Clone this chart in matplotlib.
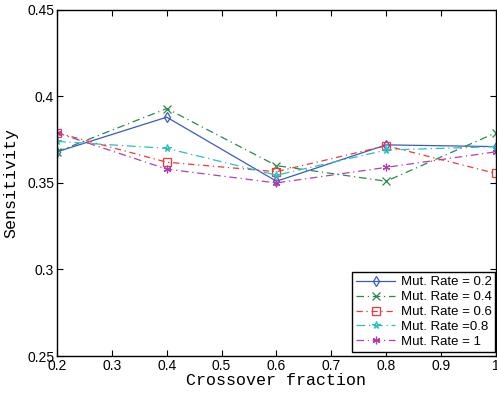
import matplotlib
matplotlib.use("Agg")
from matplotlib import pyplot as plt

crossover = [0.2, 0.4, 0.6, 0.8, 1.0]
rate_02 = [0.368, 0.388, 0.351, 0.372, 0.371]
rate_04 = [0.368, 0.393, 0.360, 0.351, 0.379]
rate_06 = [0.379, 0.362, 0.3565, 0.3715, 0.3555]
rate_08 = [0.374, 0.370, 0.3545, 0.369, 0.371]
rate_1 = [0.379, 0.358, 0.350, 0.359, 0.368]

labels = ["Mut. Rate = 0.2", "Mut. Rate = 0.4", "Mut. Rate = 0.6",
          "Mut. Rate =0.8", "Mut. Rate = 1"]
series = [rate_02, rate_04, rate_06, rate_08, rate_1]
colors = ["#3a5bbf", "#2a8a4a", "#f03838", "#28c0c0", "#b040b0"]
markers = ["d", "x", "s", "*", (6, 2, 0)]
dashes = [None, (6, 3, 1, 3), (5, 3, 1, 3), (7, 3, 1, 3), (6, 3, 1, 3)]

fig = plt.figure(figsize=(4.97, 3.96), dpi=100)
ax = fig.add_axes([0.1147, 0.101, 0.883, 0.874])

for i, vals in enumerate(series):
    line, = ax.plot(crossover, vals, color=colors[i], marker=markers[i],
                    markersize=5.5, markerfacecolor="none", markeredgewidth=0.9,
                    linewidth=0.9, label=labels[i])
    if dashes[i] is not None:
        line.set_dashes(dashes[i])

ax.set_xlim(0.2, 1.0)
ax.set_ylim(0.25, 0.45)
ax.set_xticks([0.2, 0.3, 0.4, 0.5, 0.6, 0.7, 0.8, 0.9, 1.0])
ax.set_xticklabels(["0.2", "0.3", "0.4", "0.5", "0.6", "0.7", "0.8", "0.9", "1"],
                   family="Liberation Sans", fontsize=10)
ax.set_yticks([0.25, 0.3, 0.35, 0.4, 0.45])
ax.set_yticklabels(["0.25", "0.3", "0.35", "0.4", "0.45"],
                   family="Liberation Sans", fontsize=10)
ax.tick_params(direction="in", top=True, right=True, length=4, width=0.8, pad=2)
for s in ax.spines.values():
    s.set_linewidth(1.0)

ax.set_xlabel("Crossover fraction", family="Liberation Mono", fontsize=12, labelpad=0)
ax.set_ylabel("Sensitivity", family="Liberation Mono", fontsize=12, labelpad=6)

leg = ax.legend(loc="lower right", bbox_to_anchor=(0.999, 0.012),
                prop={"family": "Liberation Sans", "size": 9.5},
                fancybox=False, framealpha=1, edgecolor="black",
                borderaxespad=0.0, handlelength=3.0, labelspacing=0.2,
                borderpad=0.3, handletextpad=0.4)
leg.get_frame().set_linewidth(1.0)

fig.savefig("out.png", dpi=100)
